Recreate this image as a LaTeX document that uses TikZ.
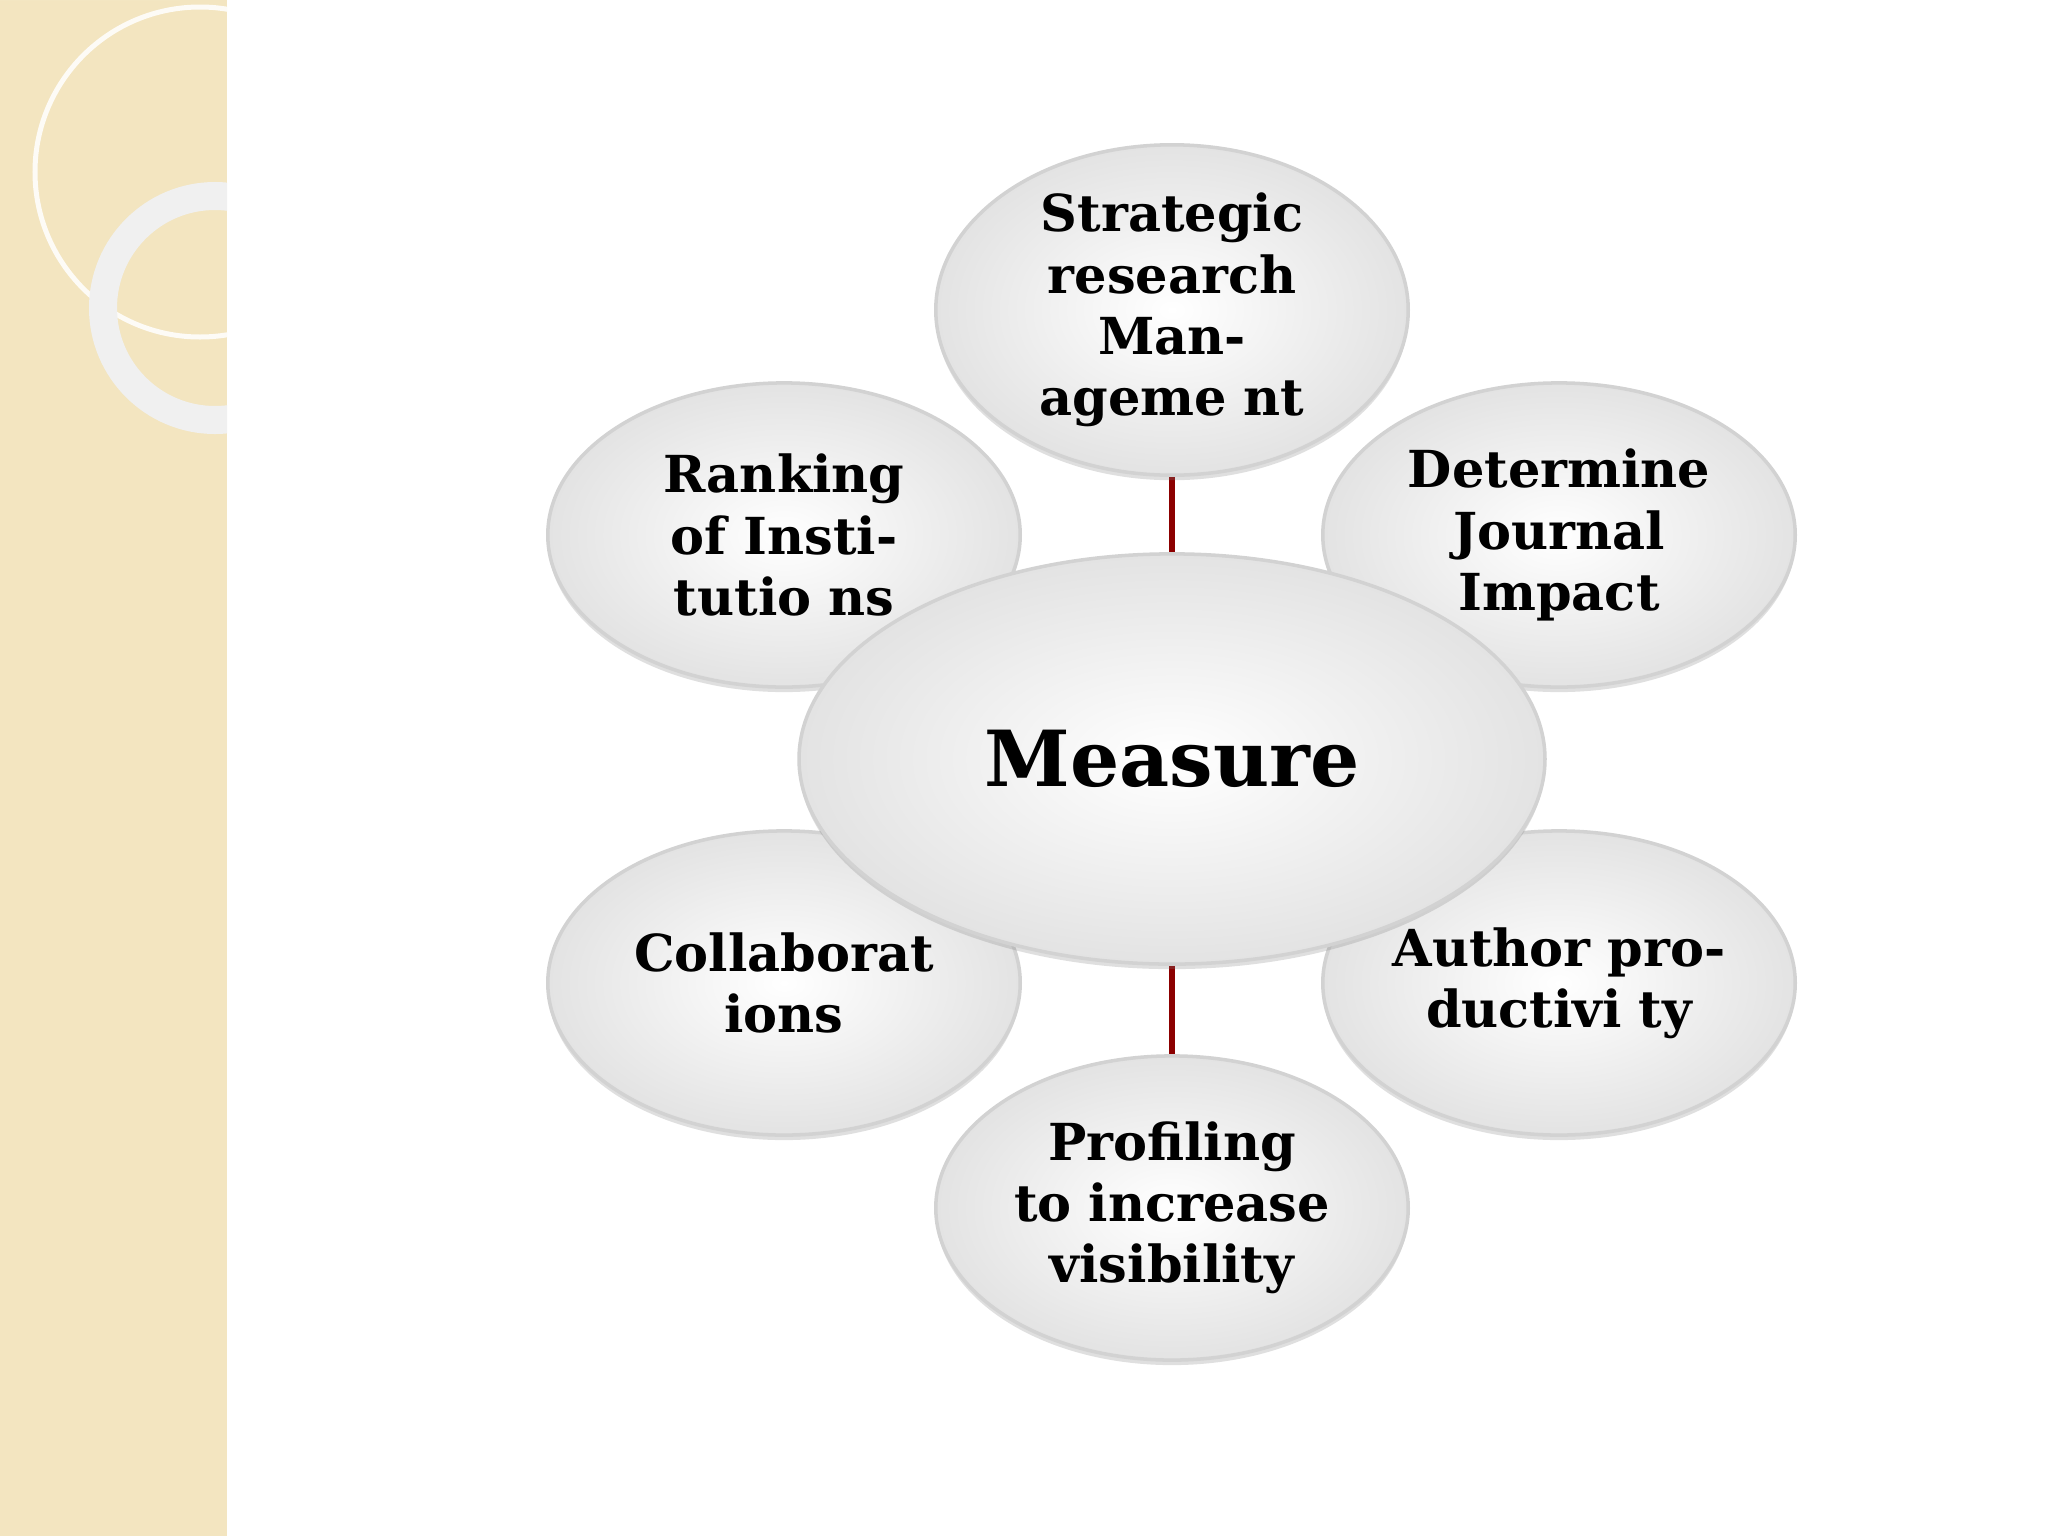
\documentclass[tikz,border=0pt]{standalone}
\usepackage{fontspec}
\setmainfont{DejaVu Serif}
\usetikzlibrary{shadows,shapes.geometric}
\definecolor{panel}{RGB}{243,229,192}
\begin{document}
\begin{tikzpicture}[x=0.01cm,y=-0.01cm,
  bub/.style={ellipse, draw=gray!35, line width=1pt, inner color=white, outer color=gray!22,
    drop shadow={shadow xshift=0pt, shadow yshift=-0.05cm, opacity=0.25},
    minimum width=4.64cm, minimum height=3.04cm, inner sep=0pt, align=center, font=\bfseries\fontsize{14.5}{17.4}\selectfont, text width=95pt},
  link/.style={draw=red!55!black, line width=1.6pt}]
\useasboundingbox (0,0) rectangle (2048,1536);
\fill[white] (0,0) rectangle (2048,1536);
\begin{scope}
\clip (0,0) rectangle (227,1536);
\fill[panel] (0,0) rectangle (227,1536);
\fill[white, opacity=0.35] (0,0) -- (180,0) arc[start angle=0,end angle=90,x radius=180,y radius=-160] -- cycle;
\draw[white!85!panel, line width=0.05cm] (200,172) circle[radius=165];
\draw[gray!12!white, line width=0.28cm] (215,308) circle[radius=112];
\end{scope}
\coordinate (cc) at (1172,759);
\coordinate (tc) at (1172,310);
\coordinate (rc) at (784,535);
\coordinate (dc) at (1559,535);
\coordinate (lc) at (784,983);
\coordinate (ac) at (1559,983);
\coordinate (pc) at (1172,1208);
\foreach \n in {tc,rc,dc,lc,ac,pc} \path[link] (cc) -- (\n);
\node[bub] (t) at (tc) {Strategic research Manageme nt};
\node[bub] (r) at (rc) {Ranking of Institutio ns};
\node[bub] (d) at (dc) {Determine Journal Impact};
\node[bub] (l) at (lc) {Collaborat ions};
\node[bub] (a) at (ac) {Author productivi ty};
\node[bub] (p) at (pc) {Profiling to increase visibility};
\node[bub, minimum width=4.62cm, minimum height=4.10cm, font=\bfseries\fontsize{22}{26}\selectfont, text width=150pt] (c) at (cc) {Measure};
\end{tikzpicture}
\end{document}
